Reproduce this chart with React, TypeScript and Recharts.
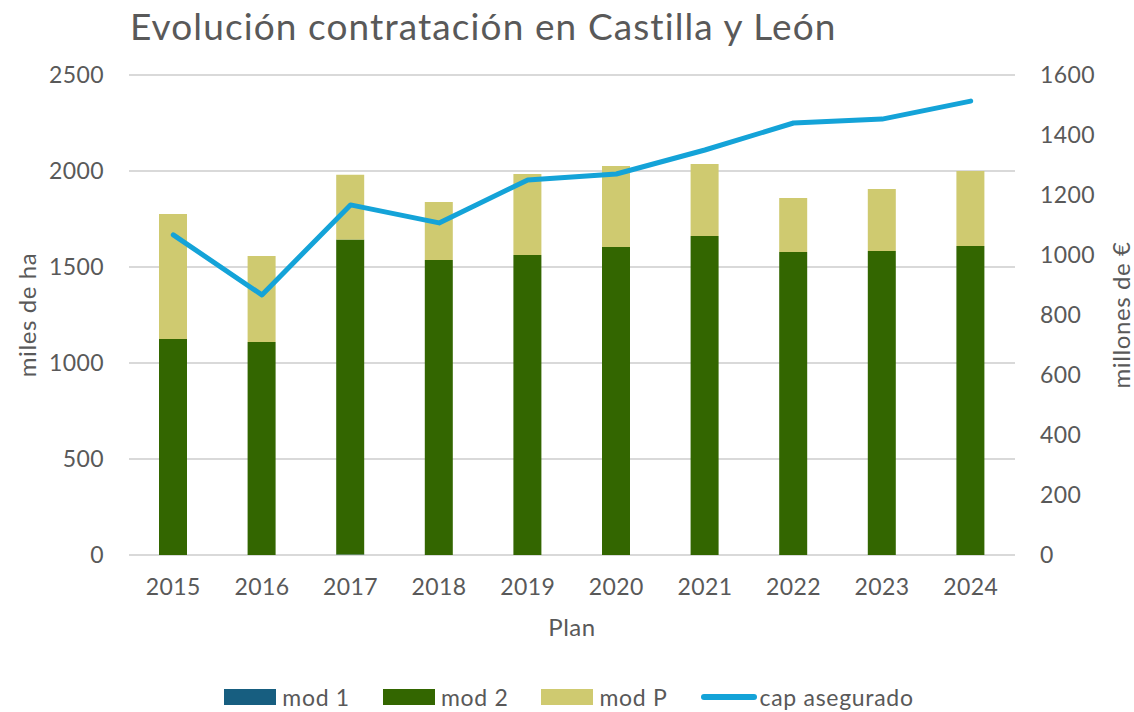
import React from 'react';
import { ComposedChart, Bar, Line, XAxis, YAxis, CartesianGrid, Legend } from 'recharts';

const years = ['2015', '2016', '2017', '2018', '2019', '2020', '2021', '2022', '2023', '2024'];
const mod1 = [0, 0, 2, 0, 0, 0, 0, 0, 0, 0];
const mod2 = [1125, 1109, 1641, 1536, 1562, 1604, 1661, 1578, 1583, 1609];
const modP = [651, 448, 338, 303, 422, 422, 375, 281, 323, 391];
const cap = [1067, 867, 1167, 1107, 1250, 1270, 1350, 1440, 1453, 1513];
const leftTicks = [0, 500, 1000, 1500, 2000, 2500];
const rightTicks = [0, 200, 400, 600, 800, 1000, 1200, 1400, 1600];

const data = years.map((y, i) => ({ year: y, mod1: mod1[i], mod2: mod2[i], modP: modP[i], cap: cap[i] }));

const FONT = 'Lato, "Noto Sans", sans-serif';
const TXT = '#595959';
const C1 = '#175e80';
const C2 = '#336600';
const CP = '#cfca70';
const CL = '#14a3d8';

const legendItems = [
  { name: 'mod 1', color: C1, type: 'rect' },
  { name: 'mod 2', color: C2, type: 'rect' },
  { name: 'mod P', color: CP, type: 'rect' },
  { name: 'cap asegurado', color: CL, type: 'line' },
];

const LegendContent = () => (
  <div style={{ display: 'flex', justifyContent: 'center', alignItems: 'center', fontFamily: FONT, fontSize: 23, letterSpacing: 0.7, color: TXT, height: 30, paddingLeft: 4 }}>
    {legendItems.map((it) => (
      <div key={it.name} style={{ display: 'flex', alignItems: 'center', marginRight: it.type === 'rect' ? 33 : 0 }}>
        {it.type === 'rect' ? (
          <div style={{ width: 52, height: 16, background: it.color, marginRight: 6 }} />
        ) : (
          <div style={{ width: 56, height: 6, borderRadius: 3, background: it.color, marginRight: 3 }} />
        )}
        <span>{it.name}</span>
      </div>
    ))}
  </div>
);

const tickStyle = { fill: TXT, fontSize: 23, fontFamily: FONT, letterSpacing: 0.4 };

export default function App() {
  return (
    <div style={{ position: 'absolute', left: 0, top: 0, width: 1134, height: 712, background: '#fff' }}>
      <div style={{ position: 'absolute', left: 130, top: 1, fontFamily: FONT, fontSize: 37, letterSpacing: 1.1, color: TXT, whiteSpace: 'nowrap', lineHeight: '50px' }}>
        Evolución contratación en Castilla y León
      </div>
      <ComposedChart width={1134} height={712} data={data} margin={{ top: 75, right: 0, bottom: 0, left: 0 }} barCategoryGap={0}>
        <CartesianGrid vertical={false} stroke="#d9d9d9" strokeWidth={2} yAxisId="left" />
        <XAxis
          dataKey="year"
          height={127}
          axisLine={false}
          tickLine={false}
          tickSize={0}
          tickMargin={24}
          tick={tickStyle}
          label={{ value: 'Plan', position: 'insideBottom', offset: 46, fill: TXT, fontSize: 24, fontFamily: FONT, letterSpacing: 0.5 }}
        />
        <YAxis
          yAxisId="left"
          width={129}
          domain={[0, 2500]}
          ticks={leftTicks}
          axisLine={false}
          tickLine={false}
          tickSize={0}
          tickMargin={25}
          tick={tickStyle}
          label={{ value: 'miles de ha', angle: -90, position: 'insideLeft', offset: 27, fill: TXT, fontSize: 24, fontFamily: FONT, letterSpacing: 0.6, style: { textAnchor: 'middle' } }}
        />
        <YAxis
          yAxisId="right"
          orientation="right"
          width={119}
          domain={[0, 1600]}
          ticks={rightTicks}
          axisLine={false}
          tickLine={false}
          tickSize={0}
          tickMargin={25}
          tick={tickStyle}
          label={{ value: 'millones de €', angle: -90, position: 'insideRight', offset: 13, fill: TXT, fontSize: 24, fontFamily: FONT, letterSpacing: 0.6, style: { textAnchor: 'middle' } }}
        />
        <Bar yAxisId="left" dataKey="mod1" name="mod 1" stackId="a" fill={C1} barSize={28} isAnimationActive={false} />
        <Bar yAxisId="left" dataKey="mod2" name="mod 2" stackId="a" fill={C2} barSize={28} isAnimationActive={false} />
        <Bar yAxisId="left" dataKey="modP" name="mod P" stackId="a" fill={CP} barSize={28} isAnimationActive={false} />
        <Line yAxisId="right" dataKey="cap" name="cap asegurado" stroke={CL} strokeWidth={5} strokeLinecap="round" strokeLinejoin="round" dot={false} isAnimationActive={false} />
        <Legend verticalAlign="bottom" height={30} content={LegendContent} />
      </ComposedChart>
    </div>
  );
}
